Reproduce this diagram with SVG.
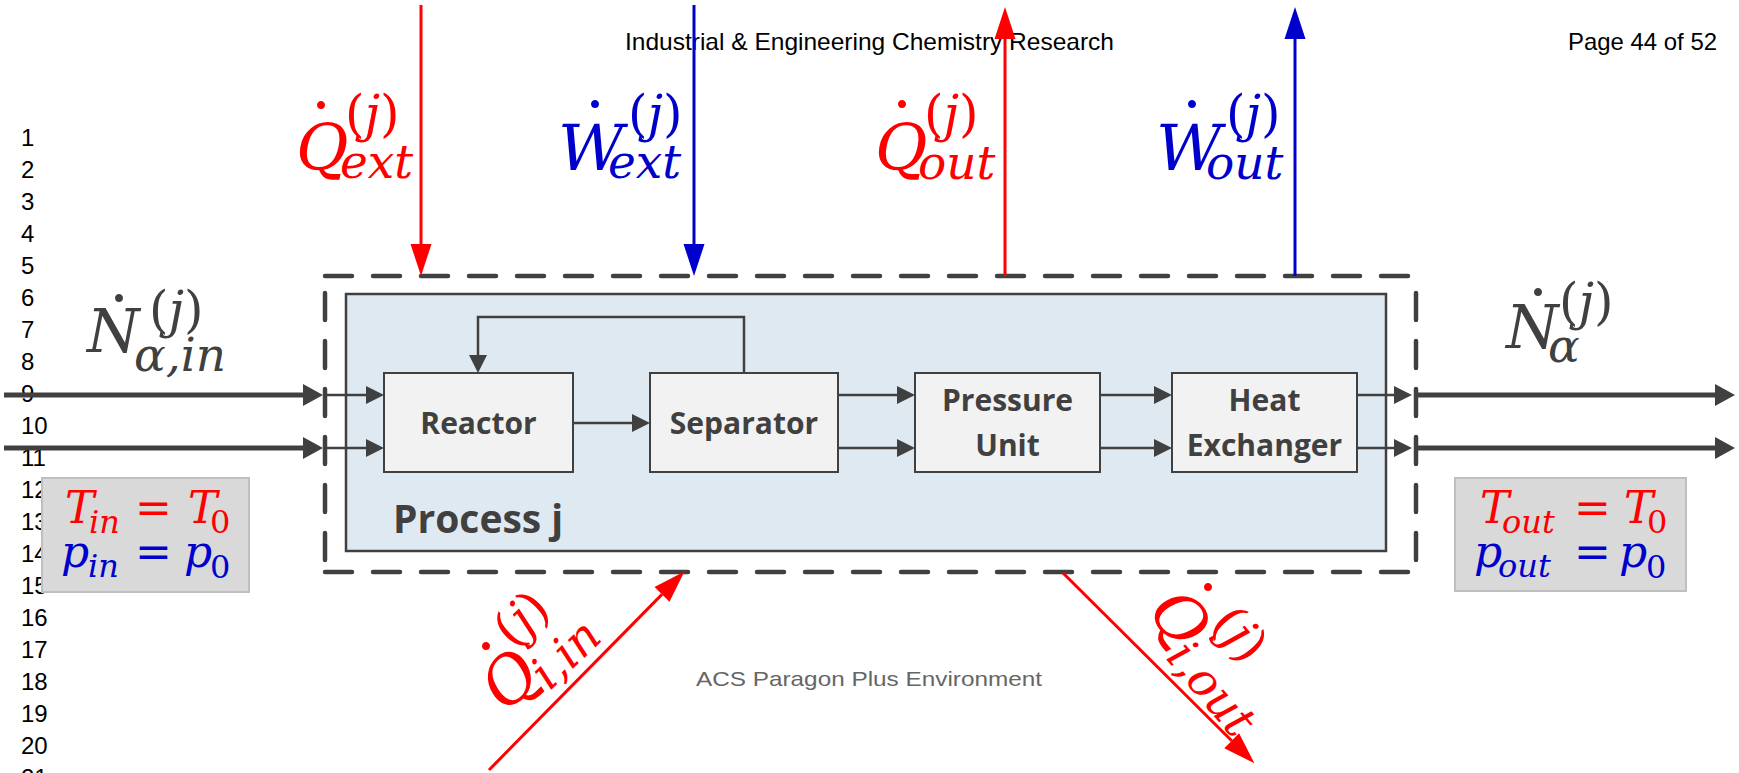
<svg xmlns="http://www.w3.org/2000/svg" width="1739" height="773" viewBox="0 0 1739 773">
  <style>
    .ln { font-family: "Liberation Sans", Arial, sans-serif; font-size: 24px; fill: #000; }
    .hdr { font-family: "Liberation Sans", Arial, sans-serif; font-size: 24px; fill: #000; }
    .ftr { font-family: "Liberation Sans", Arial, sans-serif; font-size: 21px; fill: #666; }
    .m { font-family: "DejaVu Serif", "Liberation Serif", serif; font-style: italic; }
    .up { font-style: normal; }
    .big { font-size: 64px; }
    .bigN { font-size: 60px; }
    .sup { font-size: 50px; }
    .sc { font-size: 47px; }
    .eq { font-size: 44px; }
    .esc { font-size: 32px; }
    .dot { font-family: "DejaVu Serif", serif; font-style: normal; text-anchor: middle; font-size: 70px; }
    .red { fill: #ff0000; }
    .blue { fill: #0000cc; }
    .gray { fill: #404040; }
    .box { fill: #f2f2f2; stroke: #404040; stroke-width: 2; }
    .proc { fill: #dfe9f2; stroke: #404040; stroke-width: 2.5; }
    .lbl { font-family: "Open Sans", "Liberation Sans", sans-serif; font-weight: 700; font-size: 30px; fill: #404040; text-anchor: middle; }
    .title { font-family: "Open Sans", "Liberation Sans", sans-serif; font-weight: 700; font-size: 39px; fill: #404040; }
    .dash { stroke: #404040; stroke-width: 4.5; stroke-dasharray: 27 21; stroke-linecap: round; fill: none; }
    .flow { stroke: #404040; stroke-width: 2.5; fill: none; }
    .flowB { stroke: #404040; stroke-width: 5; fill: none; }
    .qr { stroke: #ff0000; stroke-width: 3; fill: none; }
    .wb { stroke: #0000cc; stroke-width: 3; fill: none; }
    .state { fill: #d9d9d9; stroke: #bfbfbf; stroke-width: 2; }
  </style>
  <defs>
    <marker id="hS" markerUnits="userSpaceOnUse" markerWidth="20" markerHeight="20" refX="0" refY="9" orient="auto" overflow="visible">
      <path d="M0,0 L18,9 L0,18 z" fill="#404040"/>
    </marker>
    <marker id="hB" markerUnits="userSpaceOnUse" markerWidth="22" markerHeight="24" refX="0" refY="11" orient="auto" overflow="visible">
      <path d="M0,0 L20,11 L0,22 z" fill="#404040"/>
    </marker>
    <marker id="hR" markerUnits="userSpaceOnUse" markerWidth="34" markerHeight="22" refX="0" refY="10.5" orient="auto" overflow="visible">
      <path d="M0,0 L32,10.5 L0,21 z" fill="#ff0000"/>
    </marker>
    <marker id="hW" markerUnits="userSpaceOnUse" markerWidth="34" markerHeight="22" refX="0" refY="10.5" orient="auto" overflow="visible">
      <path d="M0,0 L32,10.5 L0,21 z" fill="#0000cc"/>
    </marker>
  </defs>

  <rect width="1739" height="773" fill="#fff"/>

  <!-- page furniture -->
  <g id="page">
    <text class="hdr" x="625" y="50" textLength="489" lengthAdjust="spacingAndGlyphs">Industrial &amp; Engineering Chemistry Research</text>
    <text class="hdr" x="1568" y="50" textLength="149" lengthAdjust="spacingAndGlyphs">Page 44 of 52</text>
    <text class="ftr" x="696" y="686" textLength="346" lengthAdjust="spacingAndGlyphs">ACS Paragon Plus Environment</text>
    <g class="ln">
      <text x="21" y="146">1</text><text x="21" y="178">2</text><text x="21" y="210">3</text>
      <text x="21" y="242">4</text><text x="21" y="274">5</text><text x="21" y="306">6</text>
      <text x="21" y="338">7</text><text x="21" y="370">8</text><text x="21" y="402">9</text>
      <text x="21" y="434">10</text><text x="21" y="466">11</text><text x="21" y="498">12</text>
      <text x="21" y="530">13</text><text x="21" y="562">14</text><text x="21" y="594">15</text>
      <text x="21" y="626">16</text><text x="21" y="658">17</text><text x="21" y="690">18</text>
      <text x="21" y="722">19</text><text x="21" y="754">20</text><text x="21" y="786">21</text>
    </g>
  </g>

  <!-- process container -->
  <g id="process">
    <rect class="proc" x="346" y="294" width="1040" height="257"/>
    <text class="title" x="393" y="533">Process j</text>
  </g>

  <!-- system boundary -->
  <g id="boundary">
    <line class="dash" x1="325" y1="276" x2="1412" y2="276"/>
    <line class="dash" x1="325" y1="572" x2="1411" y2="572"/>
    <line class="dash" x1="325" y1="293" x2="325" y2="564"/>
    <line class="dash" x1="1416" y1="293" x2="1416" y2="562"/>
  </g>

  <!-- unit operations -->
  <g id="reactor">
    <rect class="box" x="384" y="373" width="189" height="99"/>
    <text class="lbl" x="478.5" y="434">Reactor</text>
  </g>
  <g id="separator">
    <rect class="box" x="650" y="373" width="188" height="99"/>
    <text class="lbl" x="744" y="434">Separator</text>
  </g>
  <g id="pressure-unit">
    <rect class="box" x="915" y="373" width="185" height="99"/>
    <text class="lbl" x="1007.5" y="411">Pressure</text>
    <text class="lbl" x="1007.5" y="456">Unit</text>
  </g>
  <g id="heat-exchanger">
    <rect class="box" x="1172" y="373" width="185" height="99"/>
    <text class="lbl" x="1264.5" y="411">Heat</text>
    <text class="lbl" x="1264.5" y="456">Exchanger</text>
  </g>

  <!-- inlet / outlet state boxes -->
  <g id="inlet-state">
    <rect class="state" x="42" y="478" width="207" height="114"/>
    <text class="m eq red">
      <tspan x="65" y="523">T</tspan><tspan class="esc" x="89" y="533">in</tspan>
      <tspan class="up" x="135" y="523">=</tspan>
      <tspan x="188" y="523">T</tspan><tspan class="esc up" x="210" y="533">0</tspan>
    </text>
    <text class="m eq blue">
      <tspan x="61" y="567">p</tspan><tspan class="esc" x="88" y="577">in</tspan>
      <tspan class="up" x="135" y="567">=</tspan>
      <tspan x="184" y="567">p</tspan><tspan class="esc up" x="210" y="578">0</tspan>
    </text>
  </g>
  <g id="outlet-state">
    <rect class="state" x="1455" y="478" width="231" height="113"/>
    <text class="m eq red">
      <tspan x="1480" y="523">T</tspan><tspan class="esc" x="1502" y="533">out</tspan>
      <tspan class="up" x="1574" y="523">=</tspan>
      <tspan x="1624" y="523">T</tspan><tspan class="esc up" x="1647" y="533">0</tspan>
    </text>
    <text class="m eq blue">
      <tspan x="1474" y="567">p</tspan><tspan class="esc" x="1498" y="577">out</tspan>
      <tspan class="up" x="1574" y="567">=</tspan>
      <tspan x="1619" y="567">p</tspan><tspan class="esc up" x="1646" y="578">0</tspan>
    </text>
  </g>

  <!-- connectors -->
  <g id="connectors">
    <!-- material streams entering and leaving -->
    <line class="flowB" x1="4" y1="395" x2="303" y2="395" marker-end="url(#hB)"/>
    <line class="flowB" x1="4" y1="448" x2="303" y2="448" marker-end="url(#hB)"/>
    <line class="flowB" x1="1416" y1="395" x2="1715" y2="395" marker-end="url(#hB)"/>
    <line class="flowB" x1="1416" y1="448" x2="1715" y2="448" marker-end="url(#hB)"/>
    <!-- internal streams -->
    <line class="flow" x1="325" y1="395" x2="366" y2="395" marker-end="url(#hS)"/>
    <line class="flow" x1="325" y1="448" x2="366" y2="448" marker-end="url(#hS)"/>
    <line class="flow" x1="573" y1="423" x2="632" y2="423" marker-end="url(#hS)"/>
    <line class="flow" x1="838" y1="395" x2="897" y2="395" marker-end="url(#hS)"/>
    <line class="flow" x1="838" y1="448" x2="897" y2="448" marker-end="url(#hS)"/>
    <line class="flow" x1="1100" y1="395" x2="1154" y2="395" marker-end="url(#hS)"/>
    <line class="flow" x1="1100" y1="448" x2="1154" y2="448" marker-end="url(#hS)"/>
    <line class="flow" x1="1357" y1="395" x2="1394" y2="395" marker-end="url(#hS)"/>
    <line class="flow" x1="1357" y1="448" x2="1394" y2="448" marker-end="url(#hS)"/>
    <path class="flow" d="M744,373 V317 H478 V355" marker-end="url(#hS)"/>
    <!-- heat and work exchanged with surroundings -->
    <line class="qr" x1="421" y1="5" x2="421" y2="244" marker-end="url(#hR)"/>
    <line class="wb" x1="694" y1="5" x2="694" y2="244" marker-end="url(#hW)"/>
    <line class="qr" x1="1005" y1="276" x2="1005" y2="39" marker-end="url(#hR)"/>
    <line class="wb" x1="1295" y1="276" x2="1295" y2="39" marker-end="url(#hW)"/>
    <line class="qr" x1="489" y1="770" x2="662" y2="594.4" marker-end="url(#hR)"/>
    <line class="qr" x1="1063" y1="573" x2="1231.7" y2="740.8" marker-end="url(#hR)"/>
  </g>

  <!-- stream and energy labels -->
  <g id="label-q-ext">
    <text class="dot red" x="321" y="154">˙</text>
    <text class="m red">
      <tspan class="big" x="296" y="170">Q</tspan>
      <tspan class="sup" x="345" y="131"><tspan class="up">(</tspan>j<tspan class="up">)</tspan></tspan>
      <tspan class="sc" x="340" y="178">ext</tspan>
    </text>
  </g>
  <g id="label-w-ext">
    <text class="dot blue" x="595" y="153">˙</text>
    <text class="m blue">
      <tspan class="big" x="558" y="170">W</tspan>
      <tspan class="sup" x="628" y="131"><tspan class="up">(</tspan>j<tspan class="up">)</tspan></tspan>
      <tspan class="sc" x="608" y="178">ext</tspan>
    </text>
  </g>
  <g id="label-q-out">
    <text class="dot red" x="902" y="153">˙</text>
    <text class="m red">
      <tspan class="big" x="875" y="170">Q</tspan>
      <tspan class="sup" x="924" y="131"><tspan class="up">(</tspan>j<tspan class="up">)</tspan></tspan>
      <tspan class="sc" x="918" y="179">out</tspan>
    </text>
  </g>
  <g id="label-w-out">
    <text class="dot blue" x="1192" y="153">˙</text>
    <text class="m blue">
      <tspan class="big" x="1156" y="170">W</tspan>
      <tspan class="sup" x="1226" y="131"><tspan class="up">(</tspan>j<tspan class="up">)</tspan></tspan>
      <tspan class="sc" x="1206" y="179">out</tspan>
    </text>
  </g>
  <g id="label-n-in">
    <text class="dot gray" x="119" y="347">˙</text>
    <text class="m gray">
      <tspan class="bigN" x="87" y="352">N</tspan>
      <tspan class="sup" x="149" y="327"><tspan class="up">(</tspan>j<tspan class="up">)</tspan></tspan>
      <tspan class="sc" x="134" y="371">α,in</tspan>
    </text>
  </g>
  <g id="label-n-out">
    <text class="dot gray" x="1538" y="341">˙</text>
    <text class="m gray">
      <tspan class="bigN" x="1506" y="348">N</tspan>
      <tspan class="sup" x="1559" y="319"><tspan class="up">(</tspan>j<tspan class="up">)</tspan></tspan>
      <tspan class="sc" x="1548" y="362">α</tspan>
    </text>
  </g>
  <g id="label-q-i-in">
    <text class="dot red" x="486" y="695">˙</text>
    <text class="m red" transform="translate(506,714) rotate(-44)">
      <tspan class="big" x="0" y="0">Q</tspan>
      <tspan class="sup" x="50" y="-41"><tspan class="up">(</tspan>j<tspan class="up">)</tspan></tspan>
      <tspan class="sc" x="47" y="14">i,in</tspan>
    </text>
  </g>
  <g id="label-q-i-out">
    <text class="dot red" x="1208" y="636">˙</text>
    <text class="m red" transform="translate(1146,612) rotate(50)">
      <tspan class="big" x="0" y="0">Q</tspan>
      <tspan class="sup" x="50" y="-41"><tspan class="up">(</tspan>j<tspan class="up">)</tspan></tspan>
      <tspan class="sc" x="47" y="15">i,out</tspan>
    </text>
  </g>
</svg>
